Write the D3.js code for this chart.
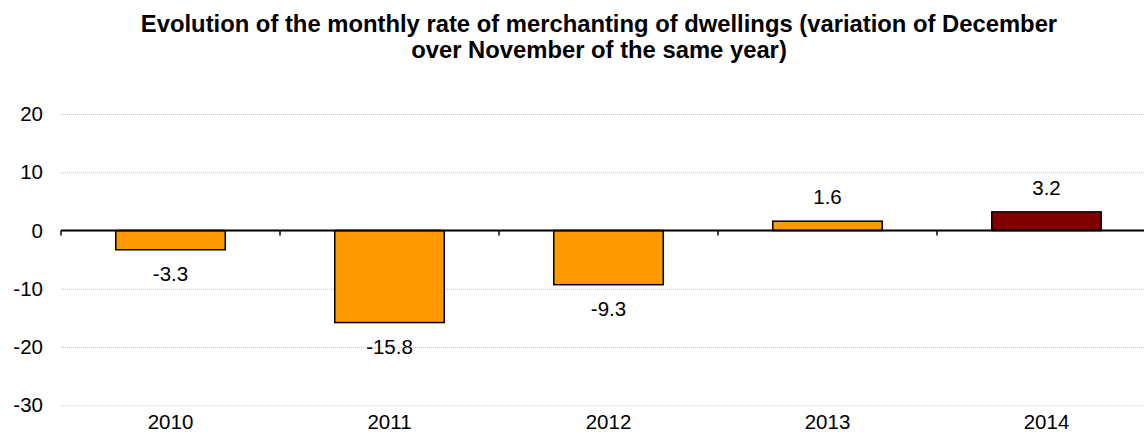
<!DOCTYPE html>
<html>
<head>
<meta charset="utf-8">
<script src="https://cdn.jsdelivr.net/npm/d3@7"></script>
<style>
  html, body { margin: 0; padding: 0; background: #fff; }
  svg text { font-family: "Liberation Sans", Arial, sans-serif; fill: #000; }
</style>
</head>
<body>
<div id="drawing"></div>
<script>
const width = 1144;
const height = 432;

// chart data
const years = ["2010", "2011", "2012", "2013", "2014"];
const rates = [-3.3, -15.8, -9.3, 1.6, 3.2];
const yTicks = [20, 10, 0, -10, -20, -30];
const titleLines = [
  "Evolution of the monthly rate of merchanting of dwellings (variation of December",
  "over November of the same year)"
];

const svg = d3.select("#drawing").append("svg")
  .attr("width", width)
  .attr("height", height);

// plot runs a bit past the right edge, like the original export
const xScale = d3.scaleBand()
  .domain(years)
  .range([61, 1156])
  .paddingInner(0.5)
  .paddingOuter(0.25);

const yScale = d3.scaleLinear()
  .domain([-30, 20])
  .range([405.3, 114]);

// plain hyphen instead of d3's unicode minus
const fmtTick = d => String(d);
const fmtValue = d => d.toFixed(1);

// title
svg.append("g")
  .selectAll("text")
  .data(titleLines)
  .join("text")
    .attr("x", 599)
    .attr("y", (d, i) => 32 + i * 26)
    .attr("text-anchor", "middle")
    .style("font-size", "23.8px")
    .style("font-weight", "bold")
    .text(d => d);

// gridlines + y labels
const yAxis = svg.append("g")
  .attr("transform", "translate(61,0)")
  .call(d3.axisLeft(yScale).tickValues(yTicks).tickFormat(fmtTick)
    .tickSize(-(1156 - 61)).tickPadding(18));
yAxis.select(".domain").remove();
yAxis.selectAll(".tick line")
  .attr("stroke", "#c4c4c4")
  .attr("stroke-width", 1)
  .attr("stroke-dasharray", "1,1");
yAxis.selectAll(".tick text")
  .style("font-size", "20.5px")
  .style("font-family", "Liberation Sans, Arial, sans-serif");

// bars
const latest = years[years.length - 1];
svg.append("g")
  .selectAll("rect")
  .data(years.map((y, i) => ({year: y, value: rates[i]})))
  .join("rect")
    .attr("x", d => xScale(d.year))
    .attr("width", xScale.bandwidth())
    .attr("y", d => yScale(Math.max(0, d.value)))
    .attr("height", d => Math.abs(yScale(d.value) - yScale(0)))
    .attr("fill", d => d.year === latest ? "#800000" : "#FF9900")
    .attr("stroke", "#000")
    .attr("stroke-width", 1.5);

// zero line with category separators
const step = xScale.step();
svg.append("line")
  .attr("x1", 61).attr("x2", 1156)
  .attr("y1", yScale(0)).attr("y2", yScale(0))
  .attr("stroke", "#000")
  .attr("stroke-width", 2);
svg.append("g")
  .selectAll("line")
  .data(d3.range(years.length + 1))
  .join("line")
    .attr("x1", i => 61 + i * step)
    .attr("x2", i => 61 + i * step)
    .attr("y1", yScale(0))
    .attr("y2", yScale(0) + 5)
    .attr("stroke", "#000")
    .attr("stroke-width", 1.5);

// value labels
svg.append("g")
  .selectAll("text")
  .data(years.map((y, i) => ({year: y, value: rates[i]})))
  .join("text")
    .attr("x", d => xScale(d.year) + xScale.bandwidth() / 2)
    .attr("y", d => d.value >= 0 ? yScale(d.value) - 17 : yScale(d.value) + 31)
    .attr("text-anchor", "middle")
    .style("font-size", "20.5px")
    .text(d => fmtValue(d.value));

// category labels along the bottom
svg.append("g")
  .selectAll("text")
  .data(years)
  .join("text")
    .attr("x", d => xScale(d) + xScale.bandwidth() / 2)
    .attr("y", 429)
    .attr("text-anchor", "middle")
    .style("font-size", "20.5px")
    .text(d => d);
</script>
</body>
</html>
